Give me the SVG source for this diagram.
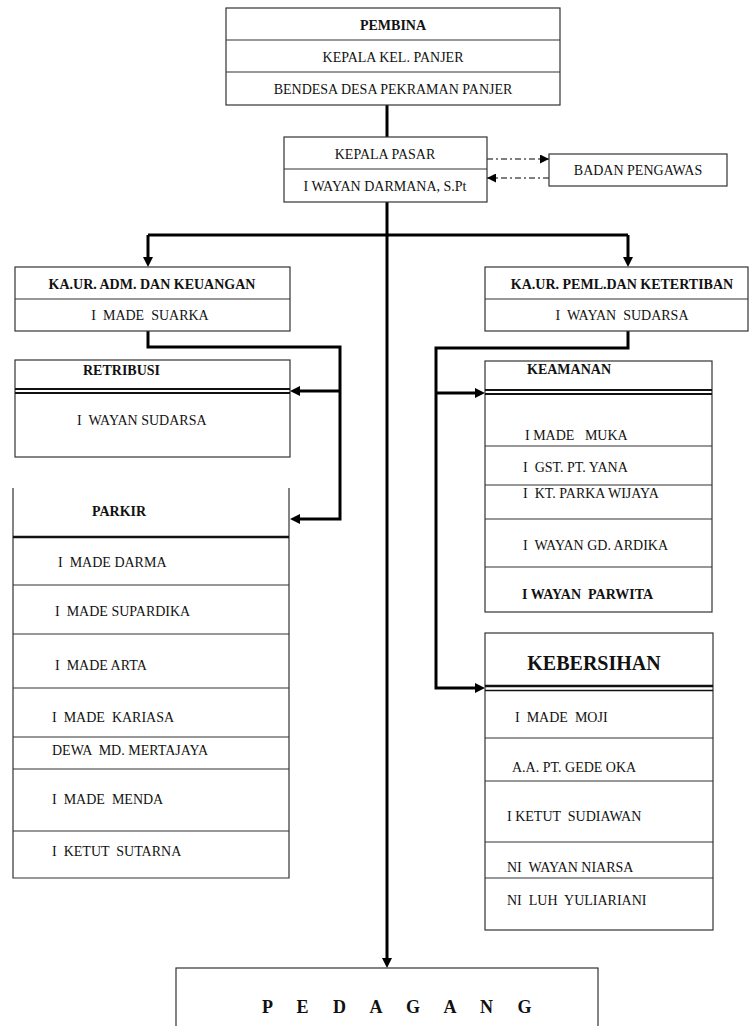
<svg xmlns="http://www.w3.org/2000/svg" width="750" height="1026" viewBox="0 0 750 1026" xml:space="preserve">
<style>
text{font-family:'Liberation Serif','Times New Roman','DejaVu Serif',serif;font-size:14px;fill:#111;dominant-baseline:central;white-space:pre}
.c{text-anchor:middle}
.b{font-weight:bold}
.box{fill:#fff;stroke:#333;stroke-width:1.2}
.ln{stroke:#333;stroke-width:1.2;fill:none}
.thick{stroke:#111;stroke-width:2;fill:none}
.con{stroke:#000;stroke-width:3;fill:none}
.dd{stroke:#000;stroke-width:1;fill:none;stroke-dasharray:6 3 2 3}
</style>
<defs>
<marker id="ah" markerUnits="userSpaceOnUse" markerWidth="10" markerHeight="10" refX="4" refY="5" orient="auto"><path d="M0,0 L10,5 L0,10 z" fill="#000"/></marker>
<marker id="as" markerUnits="userSpaceOnUse" markerWidth="9" markerHeight="9" refX="9" refY="4.5" orient="auto"><path d="M0,0 L9,4.5 L0,9 z" fill="#000"/></marker>
</defs>
<rect width="750" height="1026" fill="#fff"/>

<g id="connectors">
<path class="con" d="M387 105 V137"/>
<path class="con" d="M387 202 V962" marker-end="url(#ah)"/>
<path class="con" d="M148 235 H628"/>
<path class="con" d="M148 235 V261" marker-end="url(#ah)"/>
<path class="con" d="M628 235 V261" marker-end="url(#ah)"/>
<path class="con" d="M148 331 V347 H340 V519 H296" marker-end="url(#ah)"/>
<path class="con" d="M340 391 H296" marker-end="url(#ah)"/>
<path class="con" d="M628 331 V348 H436 V688 H479" marker-end="url(#ah)"/>
<path class="con" d="M436 393 H479" marker-end="url(#ah)"/>
<path class="dd" d="M487 159 H549" marker-end="url(#as)"/>
<path class="dd" d="M549 178 H487" marker-end="url(#as)"/>
</g>

<g id="pembina" font-family="'Liberation Serif','Times New Roman',serif">
<rect class="box" x="226" y="8" width="334" height="97"/>
<path class="ln" d="M226 40 H560 M226 72 H560"/>
<text class="c b" x="393" y="25">PEMBINA</text>
<text class="c" x="393" y="57">KEPALA KEL. PANJER</text>
<text class="c" x="393" y="89">BENDESA DESA PEKRAMAN PANJER</text>
</g>

<g id="kepala-pasar">
<rect class="box" x="284" y="137" width="203" height="65"/>
<path class="ln" d="M284 169 H487"/>
<text class="c" x="385" y="154">KEPALA PASAR</text>
<text class="c" x="385" y="186">I WAYAN DARMANA, S.Pt</text>
</g>

<g id="badan-pengawas">
<rect class="box" x="549" y="154" width="178" height="32"/>
<text class="c" x="638" y="170">BADAN PENGAWAS</text>
</g>

<g id="kaur-adm">
<rect class="box" x="15" y="267" width="275" height="64"/>
<path class="ln" d="M15 299 H290"/>
<text class="c b" x="152" y="284">KA.UR. ADM. DAN KEUANGAN</text>
<text class="c" x="150" y="315">I  MADE  SUARKA</text>
</g>

<g id="kaur-peml">
<rect class="box" x="485" y="267" width="263" height="64"/>
<path class="ln" d="M485 299 H748"/>
<text class="c b" x="622" y="284">KA.UR. PEML.DAN KETERTIBAN</text>
<text class="c" x="622" y="315">I  WAYAN  SUDARSA</text>
</g>

<g id="retribusi">
<rect class="box" x="15" y="360" width="275" height="97"/>
<path class="thick" d="M15 389 H290 M15 393 H290"/>
<text class="b" x="83" y="370">RETRIBUSI</text>
<text x="77" y="420">I  WAYAN SUDARSA</text>
</g>

<g id="parkir">
<path class="ln" d="M13 488 V878 H289 V488"/>
<path d="M13 537 H289" stroke="#111" stroke-width="2.5"/>
<path class="ln" d="M13 585 H289 M13 634 H289 M13 688 H289 M13 737 H289 M13 769 H289 M13 831 H289"/>
<text class="b" x="92" y="511">PARKIR</text>
<text x="58" y="562">I  MADE DARMA</text>
<text x="55" y="611">I  MADE SUPARDIKA</text>
<text x="55" y="665">I  MADE ARTA</text>
<text x="52" y="717">I  MADE  KARIASA</text>
<text x="52" y="750">DEWA  MD. MERTAJAYA</text>
<text x="52" y="799">I  MADE  MENDA</text>
<text x="52" y="851">I  KETUT  SUTARNA</text>
</g>

<g id="keamanan">
<rect class="box" x="485" y="361" width="227" height="251"/>
<path class="thick" d="M485 390 H712 M485 394 H712"/>
<path class="ln" d="M485 446 H712 M485 485 H712 M485 519 H712 M485 567 H712"/>
<text class="b" x="527" y="369">KEAMANAN</text>
<text x="525" y="435">I MADE   MUKA</text>
<text x="523" y="467">I  GST. PT. YANA</text>
<text x="523" y="493">I  KT. PARKA WIJAYA</text>
<text x="523" y="545">I  WAYAN GD. ARDIKA</text>
<text class="b" x="522" y="594">I WAYAN  PARWITA</text>
</g>

<g id="kebersihan">
<rect class="box" x="485" y="633" width="228" height="297"/>
<path d="M485 686 H713" stroke="#111" stroke-width="2.5"/>
<path d="M485 690.5 H713" stroke="#111" stroke-width="1.5"/>
<path class="ln" d="M485 738 H713 M485 781 H713 M485 842 H713 M485 878 H713"/>
<text class="c b" x="594" y="663" style="font-size:20px">KEBERSIHAN</text>
<text x="515" y="717">I  MADE  MOJI</text>
<text x="512" y="767">A.A. PT. GEDE OKA</text>
<text x="507" y="816">I KETUT  SUDIAWAN</text>
<text x="507" y="867">NI  WAYAN NIARSA</text>
<text x="507" y="900">NI  LUH  YULIARIANI</text>
</g>

<g id="pedagang">
<rect class="box" x="176" y="968" width="422" height="70"/>
<text class="b" x="262" y="1007" style="font-size:18px;letter-spacing:10px">P E D A G A N G</text>
</g>
</svg>
